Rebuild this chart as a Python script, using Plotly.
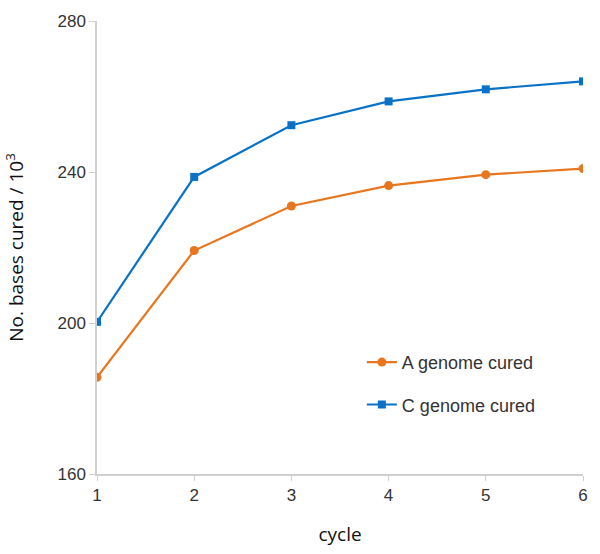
import plotly.graph_objects as go

cycles = [1, 2, 3, 4, 5, 6]
a_genome = [185.6, 219.2, 231.0, 236.4, 239.3, 240.9]
c_genome = [200.3, 238.7, 252.4, 258.7, 261.9, 264.0]
y_ticks = [160, 200, 240, 280]

orange = "#E8761E"
blue = "#0A72C6"

fig = go.Figure()
fig.add_trace(go.Scatter(x=cycles, y=a_genome, mode="lines+markers", name="A genome cured",
                         line=dict(color=orange, width=2.2),
                         marker=dict(symbol="circle", size=9, color=orange),
                         legendgroup="a"))
fig.add_trace(go.Scatter(x=cycles, y=c_genome, mode="lines+markers", name="C genome cured",
                         line=dict(color=blue, width=2.2),
                         marker=dict(symbol="square", size=8, color=blue),
                         legendgroup="c"))

font_fam = "Liberation Sans, Arial, sans-serif"
fig.update_layout(
    width=600, height=554,
    margin=dict(l=97, r=17, t=15, b=74),
    plot_bgcolor="white", paper_bgcolor="white",
    font=dict(family=font_fam, size=17, color="#333"),
    showlegend=True,
    legend=dict(x=0.545, y=0.20, xanchor="left", yanchor="middle",
                font=dict(size=18, color="#333"), tracegroupgap=16,
                bgcolor="rgba(0,0,0,0)"),
    xaxis=dict(range=[1, 6], tickvals=cycles, showgrid=False, zeroline=False,
               showline=True, linecolor="#d0d0d0", linewidth=1.5,
               ticks="outside", ticklen=5, tickcolor="#d0d0d0",
               title=dict(text="cycle", font=dict(size=19, family="Open Sans, sans-serif", color="#111"), standoff=24)),
    yaxis=dict(range=[160, 280], tickvals=y_ticks, showgrid=False, zeroline=False,
               showline=True, linecolor="#d0d0d0", linewidth=1.5,
               ticks="outside", ticklen=6, tickcolor="#d0d0d0", ticklabeloverflow="allow",
               title=dict(text="No. bases cured / 10<sup>3</sup>", font=dict(size=19, family="Open Sans, sans-serif", color="#111"), standoff=29)),
)

fig.write_html("out.html", config={"displayModeBar": False},
               post_script="document.body.style.margin='0';")
